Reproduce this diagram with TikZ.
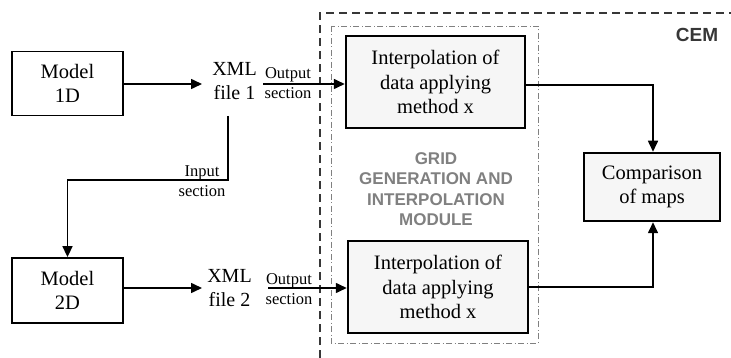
\documentclass[tikz,border=0pt]{standalone}
\usepackage{fontspec}
\setmainfont{Liberation Serif}
\newfontfamily\labsans{Liberation Sans}
\usetikzlibrary{arrows.meta}
\definecolor{boxfill}{RGB}{246,246,246}
\definecolor{cemgray}{RGB}{55,55,55}
\definecolor{gridgray}{RGB}{128,128,128}
\tikzset{
  plainbox/.style={draw=black, line width=1.8pt, fill=white, minimum width=111pt, minimum height=64pt, align=center, font=\fontsize{20.5}{24.5}\selectfont},
  procbox/.style={draw=black, line width=2.5pt, fill=boxfill, align=center, font=\fontsize{20.5}{24.5}\selectfont},
  filetext/.style={align=center, inner sep=3pt, font=\fontsize{20}{24.5}\selectfont},
  smalllab/.style={align=center, inner sep=0pt, font=\fontsize{16.5}{20}\selectfont},
  arr/.style={line width=1.6pt, -{Triangle[length=11pt,width=10pt]}},
  conn/.style={line width=1.6pt}
}
\begin{document}
\begin{tikzpicture}[x=1pt,y=-1pt]
\useasboundingbox (0,0) rectangle (731,358);
% outer CEM dashed frame
\draw[line width=1.8pt, cemgray, dash pattern=on 8pt off 5pt] (320,358) -- (320,13) -- (731,13);
% inner dash-dot module frame
\draw[line width=0.8pt, gridgray, dash pattern=on 6pt off 2.5pt on 1pt off 2.5pt] (331,26) rectangle (538,343);
\node[font=\labsans\bfseries\fontsize{19}{22}\selectfont, text=cemgray] (cem) at (697,35) {CEM};
\node[font=\labsans\bfseries\fontsize{17}{20.5}\selectfont, text=gridgray, align=center] (grid) at (436,189) {GRID\\GENERATION AND\\INTERPOLATION\\MODULE};

\node[plainbox] (m1) at (67.5,83.5) {Model\\1D};
\node[plainbox, minimum height=65pt] (m2) at (67.5,290.5) {Model\\2D};
\node[filetext] (x1) at (234.5,81) {XML\\file 1};
\node[filetext] (x2) at (229.5,288) {XML\\file 2};
\node[smalllab] (o1) at (288,83) {Output\\section};
\node[smalllab] (o2) at (289,289) {Output\\section};
\node[smalllab] (inl) at (202,181) {Input\\section};
\node[procbox, minimum width=179pt, minimum height=92pt] (i1) at (435.5,82) {Interpolation of\\data applying\\method x};
\node[procbox, minimum width=180pt, minimum height=92pt] (i2) at (438,287) {Interpolation of\\data applying\\method x};
\node[procbox, minimum width=136pt, minimum height=68pt] (cmp) at (652,187) {Comparison\\of maps};

\coordinate (inp) at (228,116);
\coordinate (a1) at (263,84);
\coordinate (a2) at (268,288);

\draw[arr] (m1.east |- 0,84) -- (202,84);
\draw[arr] (m2.east |- a2) -- (202,288);
\draw[arr] (a1) -- (i1.west |- a1);
\draw[arr] (a2) -- (i2.west |- a2);
\draw[arr] (inp) -- (228,180) -- (m2.north |- 0,180) -- (m2.north);
\draw[arr] (i1.east |- 0,85) -- (653,85) -- (cmp.north -| 653,0);
\draw[arr] (i2.east |- 0,287) -- (653,287) -- (cmp.south -| 653,0);
\end{tikzpicture}
\end{document}
